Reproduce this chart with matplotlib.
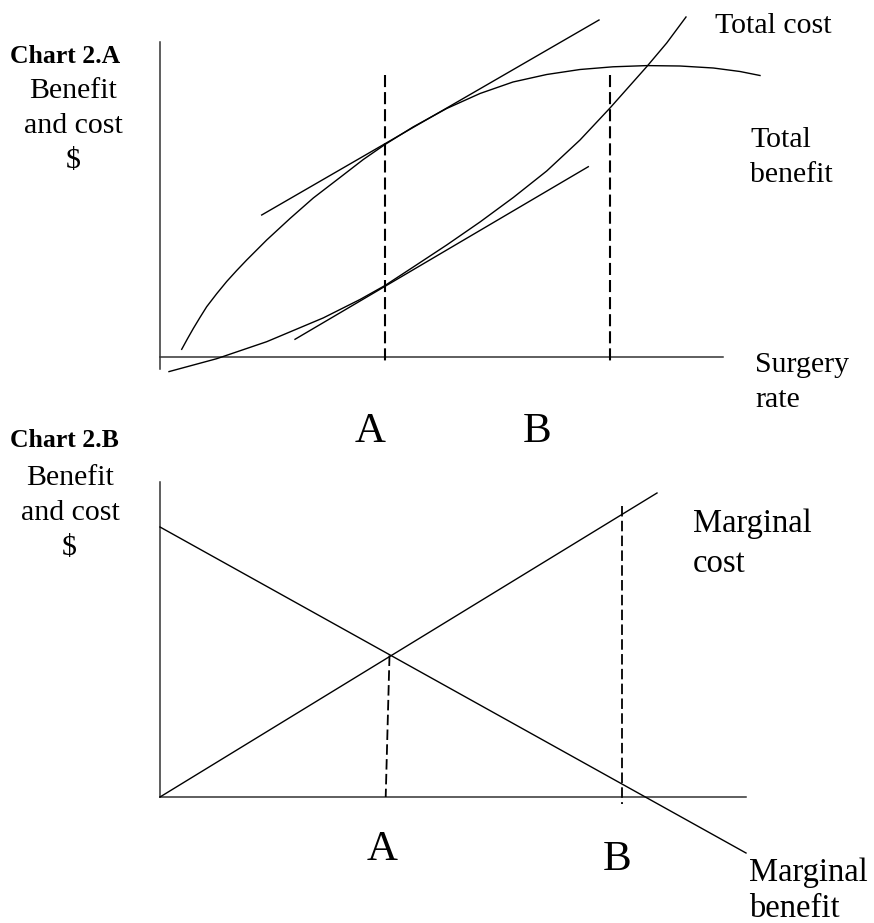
import matplotlib
matplotlib.use("Agg")
import matplotlib.pyplot as plt

# ---------------- Chart 2.A data (surgery rate, $) ----------------
benefit_rate = [21.7, 27.5, 33.3, 40, 46.7, 56.7, 66.7, 76.7, 86.7, 106.7, 130, 153.3, 180,
                203.3, 225, 253, 286.7, 320, 353, 386.7, 420, 453, 486.7, 520, 553.3, 580, 600]
benefit_val = [7.7, 18.3, 28.5, 39.6, 50.3, 63.3, 75.5, 86.5, 97, 117, 138.5, 159, 179.5,
               197.5, 212.5, 230, 248.5, 263.5, 275, 282.5, 287.5, 290.2, 291.4, 291, 289,
               285.5, 281.5]
benefit_tan_rate = [101.7, 439]
benefit_tan_val = [142, 337]

cost_rate = [9, 56.7, 106.7, 163.3, 200, 225, 253.3, 286.7, 320, 353.3, 386.7,
             420, 450, 486.7, 506.7, 526]
cost_val = [-14.6, -1.7, 15.3, 39.1, 57.5, 71.5, 90, 112, 135, 159.5, 186,
            217, 249, 290.3, 314, 340]
cost_tan_rate = [135, 428.3]
cost_tan_val = [17.7, 190.3]

rate_A_top, rate_B_top = 225, 450
dash_top_range = [-8, 282]

# ---------------- Chart 2.B data ----------------
mb_rate = [0, 586]
mb_val = [270, -56]
mc_rate = [0, 497]
mc_val = [0, 304]
dashA_rate = [229.5, 225.7]
dashA_val = [141.5, 0]
rate_B_bot = 462
dash_B_range = [-7, 291]

W, H = 874, 923
fig = plt.figure(figsize=(W / 100, H / 100), dpi=100)
fig.patch.set_facecolor("white")

# panel axes (full figure, origin at the panel's axes corner)
def panel(ox, oy):
    ax = fig.add_axes([0, 0, 1, 1])
    ax.set_xlim(-ox, W - ox)
    ax.set_ylim(oy - H, oy)
    ax.axis("off")
    ax.patch.set_alpha(0)
    return ax

axA = panel(160, 357)
axB = panel(160, 797)

axis_col = "#333333"
lw_axis = 1.1
lw_curve = 1.0
dash_style = (0, (5.8, 2.4))

# ---- Chart 2.A ----
axA.plot([0, 0], [-12, 315], color=axis_col, lw=lw_axis, clip_on=False)
axA.plot([0, 563], [0, 0], color=axis_col, lw=lw_axis, clip_on=False)
axA.plot(benefit_rate, benefit_val, color="black", lw=lw_curve, clip_on=False)
axA.plot(benefit_tan_rate, benefit_tan_val, color="black", lw=lw_curve, clip_on=False)
axA.plot(cost_rate, cost_val, color="black", lw=lw_curve, clip_on=False)
axA.plot(cost_tan_rate, cost_tan_val, color="black", lw=lw_curve, clip_on=False)
for r in (rate_A_top, rate_B_top):
    axA.plot([r, r], dash_top_range[::-1], color="black", lw=1.5, linestyle=dash_style,
             clip_on=False)

# ---- Chart 2.B ----
axB.plot([0, 0], [0, 315], color=axis_col, lw=lw_axis, clip_on=False)
axB.plot([0, 586], [0, 0], color=axis_col, lw=lw_axis, clip_on=False)
axB.plot(mb_rate, mb_val, color="black", lw=lw_curve, clip_on=False)
axB.plot(mc_rate, mc_val, color="black", lw=lw_curve, clip_on=False)
axB.plot(dashA_rate, dashA_val, color="black", lw=1.3, linestyle=dash_style, clip_on=False)
axB.plot([rate_B_bot, rate_B_bot], dash_B_range[::-1], color="black", lw=1.3,
         linestyle=dash_style, clip_on=False)

# ---------------- text (pixel positions) ----------------
serif = ["Liberation Serif", "DejaVu Serif"]

def txt(x, y, s, size, ha="left", weight="normal"):
    fig.text(x / W, 1 - y / H, s, fontsize=size, ha=ha, va="baseline",
             family=serif, fontweight=weight, color="black")

# Chart 2.A labels
txt(10, 63, "Chart 2.A", 18.5, weight="bold")
txt(73, 98, "Benefit", 21.5, ha="center")
txt(73, 133, "and cost", 21.5, ha="center")
txt(73, 168, "$", 21.5, ha="center")
txt(715, 33, "Total cost", 21.5)
txt(750, 147, "Total", 21.5)
txt(750, 182, "benefit", 21.5)
txt(755, 372, "Surgery", 21.5)
txt(755, 407, "rate", 21.5)
txt(370, 442, "A", 31, ha="center")
txt(537, 442, "B", 31, ha="center")

# Chart 2.B labels
txt(10, 447, "Chart 2.B", 18.5, weight="bold")
txt(70, 485, "Benefit", 21.5, ha="center")
txt(70, 520, "and cost", 21.5, ha="center")
txt(69, 555, "$", 21.5, ha="center")
txt(693, 532, "Marginal", 23.5)
txt(693, 572, "cost", 23.5)
txt(382, 860, "A", 31, ha="center")
txt(617, 870, "B", 31, ha="center")
txt(749, 881, "Marginal", 23.5)
txt(749, 917, "benefit", 23.5)

fig.savefig("out.png", dpi=100, facecolor="white")
